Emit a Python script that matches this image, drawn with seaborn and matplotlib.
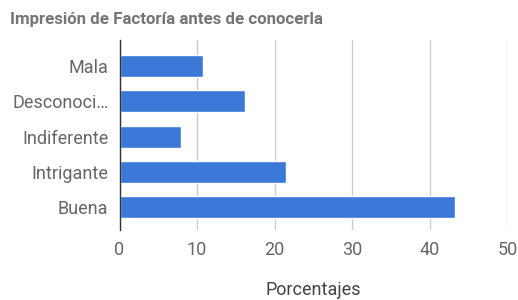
import pandas as pd
import matplotlib
matplotlib.use("Agg")
import matplotlib.pyplot as plt
import seaborn as sns

# Datos
categorias = ["Mala", "Desconoci…", "Indiferente", "Intrigante", "Buena"]
porcentajes = [10.7, 16.2, 7.9, 21.5, 43.2]
ticks_x = [0, 10, 20, 30, 40, 50]

df = pd.DataFrame({"categoria": categorias, "porcentaje": porcentajes})

sns.set_style("white")
plt.rcParams["font.family"] = ["Roboto", "DejaVu Sans"]

fig = plt.figure(figsize=(5.18, 3.0), dpi=100)
ax = fig.add_axes([0.2307, 0.2333, 0.749, 0.6334])

sns.barplot(data=df, x="porcentaje", y="categoria", orient="h",
            color="#3c78d8", saturation=1, width=0.62, ax=ax)

ax.set_xlim(0, 50)
ax.set_ylim(4.65, -0.74)
ax.set_xticks(ticks_x)
ax.grid(axis="x", color="#cccccc", linewidth=1)
ax.set_axisbelow(True)
for s in ["top", "right", "bottom"]:
    ax.spines[s].set_visible(False)
ax.spines["left"].set_color("#333333")
ax.spines["left"].set_linewidth(1)
ax.spines["left"].set_zorder(5)

ax.tick_params(axis="both", length=0, labelcolor="#666666", labelsize=13)
ax.tick_params(axis="y", pad=8)
ax.tick_params(axis="x", pad=8)
ax.set_ylabel("")
ax.set_xlabel("Porcentajes", fontsize=13, color="#444444", labelpad=16)

fig.text(0.0193, 0.935, "Impresión de Factoría antes de conocerla",
         fontsize=12.2, fontweight="bold", color="#757575", va="center")

fig.savefig("out.png", dpi=100)
